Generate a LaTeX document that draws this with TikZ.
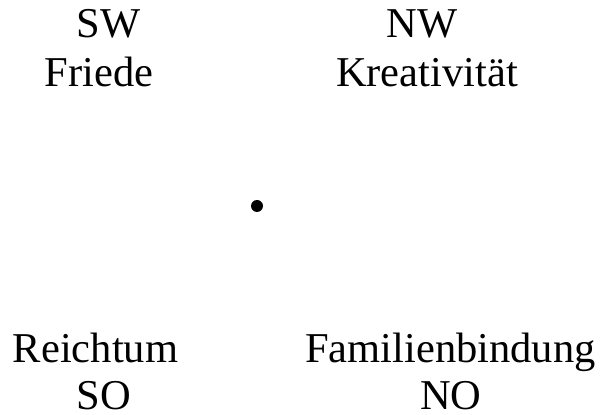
\documentclass[tikz,border=0pt]{standalone}
\usepackage{fontspec}
\setmainfont{Liberation Serif}
\begin{document}
\begin{tikzpicture}[x=1pt,y=1pt,
  lbl/.style={anchor=base,inner sep=0pt,font=\fontsize{42.5}{42.5}\selectfont}]
\useasboundingbox (0,0) rectangle (600,415);
\node[lbl] (sw) at (108.5,377) {SW};
\node[lbl] (friede) at (99,328) {Friede};
\node[lbl] (nw) at (422,377) {NW};
\node[lbl] (kreativ) at (427,328) {Kreativität};
\node[lbl] (reichtum) at (95.5,52) {Reichtum};
\node[lbl] (so) at (104,5) {SO};
\node[lbl] (familie) at (450.5,52) {Familienbindung};
\node[lbl] (no) at (451,5) {NO};
\fill (257,209) circle (6);
\end{tikzpicture}
\end{document}
